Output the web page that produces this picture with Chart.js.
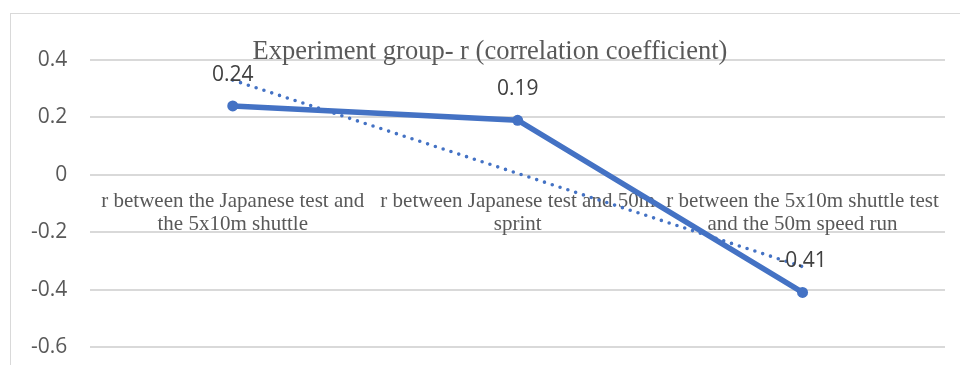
<!DOCTYPE html>
<html>
<head>
<meta charset="utf-8">
<script src="https://cdn.jsdelivr.net/npm/chart.js@4"></script>
<style>
  html, body { margin: 0; padding: 0; background: #fff; overflow: hidden; }
  #frame { position: absolute; left: 10px; top: 13px; width: 990px; height: 420px; border: 1.5px solid #d9d9d9; }
  #wrap { position: absolute; left: 0; top: 0; width: 960px; height: 365px; }
</style>
</head>
<body>
<div id="frame"></div>
<div id="wrap"><canvas id="chart"></canvas></div>
<script>
const titleText = 'Experiment group- r (correlation coefficient)';
const categories = [
  ['r between the Japanese test and', 'the 5x10m shuttle'],
  ['r between Japanese test and 50m', 'sprint'],
  ['r between the 5x10m shuttle test', 'and the 50m speed run'],
];
const rValues = [0.24, 0.19, -0.41];
const trendValues = [0.33, 0.005, -0.32];
const yTicks = [0.4, 0.2, 0, -0.2, -0.4, -0.6];

const blue = '#4472C4';

const overlay = {
  id: 'overlay',
  afterDatasetsDraw(chart) {
    const ctx = chart.ctx;
    ctx.save();
    // data labels above the points
    const meta = chart.getDatasetMeta(1);
    ctx.font = '21px "Open Sans"';
    ctx.fillStyle = '#404040';
    ctx.textAlign = 'center';
    ctx.textBaseline = 'middle';
    meta.data.forEach((pt, i) => {
      ctx.fillText(String(rValues[i]), pt.x, pt.y - 31);
    });
    // title, sits on the top gridline like the Excel one
    ctx.font = '26.5px "Liberation Serif"';
    ctx.fillStyle = '#595959';
    ctx.textBaseline = 'alphabetic';
    ctx.fillText(titleText, 490, chart.chartArea.top - 1);
    ctx.restore();
  },
};

new Chart(document.getElementById('chart').getContext('2d'), {
  type: 'line',
  data: {
    labels: categories,
    datasets: [
      {
        label: 'Linear trend',
        data: trendValues,
        borderColor: blue,
        borderWidth: 3.6,
        borderDash: [0, 8.2],
        borderCapStyle: 'round',
        pointRadius: 0,
        fill: false,
        order: 0,
      },
      {
        label: 'r',
        data: rValues,
        borderColor: blue,
        backgroundColor: blue,
        borderWidth: 5.5,
        pointRadius: 5.5,
        pointBackgroundColor: blue,
        pointBorderWidth: 0,
        fill: false,
        order: 1,
      },
    ],
  },
  options: {
    responsive: true,
    maintainAspectRatio: false,
    animation: false,
    layout: { padding: { left: 8, right: 15, top: 60, bottom: 18 } },
    plugins: {
      legend: { display: false },
      tooltip: { enabled: false },
      title: { display: false },
    },
    scales: {
      x: {
        position: { y: 0 },
        offset: true,
        grid: { display: false, drawTicks: false },
        border: { display: false },
        afterFit: axis => {
          // labels overlap the plot, they must not shrink it
          axis.paddingLeft = 0;
          axis.paddingRight = 0;
          axis.paddingTop = 0;
          axis.paddingBottom = 0;
          axis.height = 0;
        },
        ticks: {
          color: '#595959',
          font: { family: '"Liberation Serif"', size: 21, lineHeight: 1.1 },
          padding: 15,
          autoSkip: false,
          maxRotation: 0,
          minRotation: 0,
        },
      },
      y: {
        min: -0.6,
        max: 0.4,
        afterBuildTicks: axis => { axis.ticks = yTicks.map(v => ({ value: v })); },
        afterFit: axis => {
          axis.paddingTop = 0;
          axis.paddingBottom = 0;
        },
        grid: { color: '#d9d9d9', lineWidth: 2, drawTicks: false },
        border: { display: false },
        ticks: {
          color: '#595959',
          font: { family: '"Open Sans"', size: 21 },
          padding: 23,
          callback: v => String(Math.round(v * 10) / 10),
        },
      },
    },
  },
  plugins: [overlay],
});
</script>
</body>
</html>
